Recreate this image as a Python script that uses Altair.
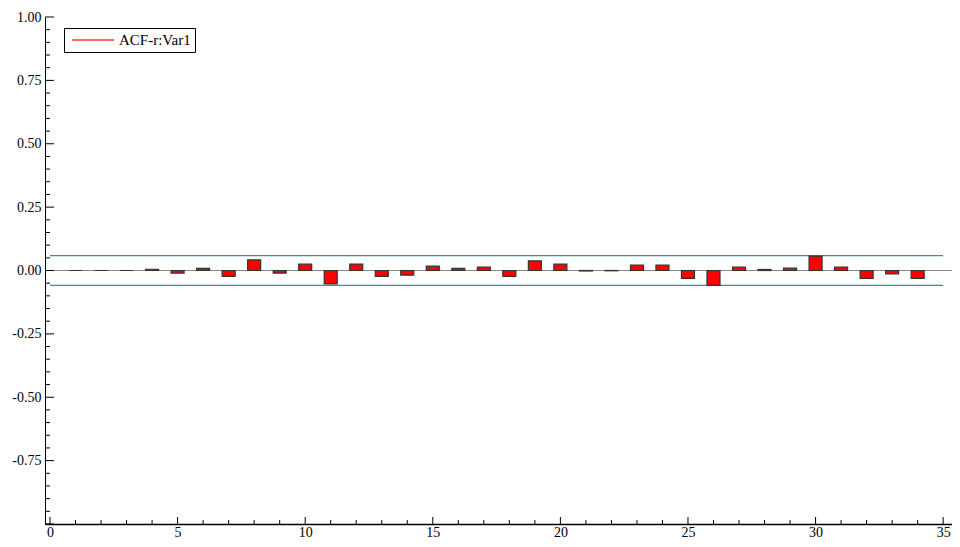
import altair as alt
import pandas as pd

# ---- data ----
lags = list(range(1, 35))
acf_values = [0.000, 0.000, 0.000, 0.005, -0.010, 0.008, -0.023, 0.042, -0.010, 0.025,
              -0.053, 0.025, -0.023, -0.018, 0.017, 0.008, 0.013, -0.023, 0.038, 0.025,
              -0.002, -0.001, 0.021, 0.021, -0.031, -0.059, 0.013, 0.004, 0.009, 0.057,
              0.013, -0.031, -0.013, -0.031]
series_name = "ACF-r:Var1"
conf_bounds = [0.059, -0.059]
conf_x_start = 0
conf_x_end = 35

x_label_values = [0, 5, 10, 15, 20, 25, 30, 35]
x_minor_values = [v for v in range(0, 36) if v % 5 != 0]
y_label_values = [-0.75, -0.5, -0.25, 0.0, 0.25, 0.5, 0.75, 1.0]
y_major_values = [-1.0, -0.75, -0.5, -0.25, 0.0, 0.25, 0.5, 0.75, 1.0]
y_minor_values = [round(-1 + 0.05 * i, 2) for i in range(41) if i % 5 != 0]

W, H = 907, 507
FONT = "Liberation Serif"

df = pd.DataFrame({"lag": lags, "acf": acf_values, "series": series_name})
conf_df = pd.DataFrame({"y": conf_bounds, "x0": conf_x_start, "x1": conf_x_end})

xscale = alt.Scale(domain=[0, 35.15], nice=False, zero=False)
yscale = alt.Scale(domain=[-1, 1], nice=False)

base_axes = alt.Chart(df).mark_point(opacity=0).encode(
    x=alt.X("lag:Q", scale=xscale, axis=alt.Axis(
        values=x_label_values, title=None, tickSize=0, labelPadding=1,
        labelFlush=False, grid=False, domainColor="black", domainWidth=1.5,
        labelFont=FONT, labelFontSize=14, labelColor="black")),
    y=alt.Y("acf:Q", scale=yscale, axis=alt.Axis(
        values=y_label_values, title=None, tickSize=0, labelPadding=4,
        labelExpr="replace(format(datum.value, '.2f'), '\u2212', '-')",
        grid=False, domainColor="black", domainWidth=1,
        labelFont=FONT, labelFontSize=14, labelColor="black")),
)

zero_line = alt.Chart(df).mark_rule(color="#888888", strokeWidth=1).encode(
    y=alt.datum(0, scale=yscale)
)

conf_lines = alt.Chart(conf_df).mark_rule(color="#2f9494", strokeWidth=1.2).encode(
    y=alt.Y("y:Q", scale=yscale),
    x=alt.X("x0:Q", scale=xscale),
    x2="x1:Q",
)

bars = alt.Chart(df).mark_bar(size=13, stroke="#333333", strokeWidth=1.2).encode(
    x=alt.X("lag:Q", scale=xscale),
    y=alt.Y("acf:Q", scale=yscale),
    y2=alt.datum(0),
    color=alt.Color("series:N", scale=alt.Scale(domain=[series_name], range=["#ff0000"]),
                    legend=alt.Legend(
                        title=None, orient="none", legendX=19, legendY=11,
                        symbolType="M-1,0H5", symbolSize=196, symbolStrokeWidth=1.5,
                        symbolStrokeColor="#ff3030", symbolOffset=3,
                        strokeColor="black", fillColor="white", padding=4,
                        labelFont=FONT, labelFontSize=15, labelColor="black",
                        labelOffset=32)),
)

ymaj = alt.Chart(pd.DataFrame({"v": y_major_values})).mark_rule(color="black").encode(
    y=alt.Y("v:Q", scale=yscale), x=alt.value(0), x2=alt.value(9))
ymin = alt.Chart(pd.DataFrame({"v": y_minor_values})).mark_rule(color="black").encode(
    y=alt.Y("v:Q", scale=yscale), x=alt.value(0), x2=alt.value(5))
xmaj = alt.Chart(pd.DataFrame({"v": x_label_values})).mark_rule(color="black").encode(
    x=alt.X("v:Q", scale=xscale), y=alt.value(H), y2=alt.value(H - 7))
xmin = alt.Chart(pd.DataFrame({"v": x_minor_values})).mark_rule(color="black").encode(
    x=alt.X("v:Q", scale=xscale), y=alt.value(H), y2=alt.value(H - 4))

chart = alt.layer(base_axes, zero_line, conf_lines, bars, ymaj, ymin, xmaj, xmin).properties(
    width=W, height=H,
    autosize=alt.AutoSizeParams(type="none"),
    padding={"left": 37, "top": 9, "right": 0, "bottom": 15},
    background="white",
).configure_view(stroke=None)

chart.save("out.html", embed_options={"renderer": "svg", "actions": False})
